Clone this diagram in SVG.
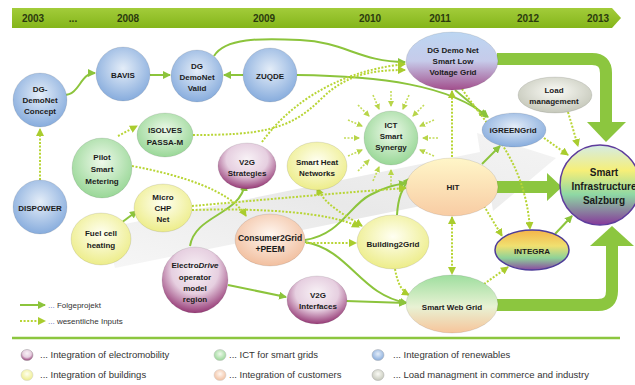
<svg xmlns="http://www.w3.org/2000/svg" width="635" height="385" viewBox="0 0 635 385">
<style>
text{font-family:"Liberation Sans",Arial,sans-serif;fill:#1b1b1b}
.n{font-size:8px;font-weight:bold;text-anchor:middle}
.y{font-size:10px;font-weight:bold;fill:#2b3a0e;text-anchor:middle}
.lg{font-size:9.5px;fill:#333}
.ls{font-size:8px;fill:#333}
.dots{fill:#5a6fb8}
.s{fill:none;stroke:#8cc43c;stroke-width:2;marker-end:url(#a)}
.d{fill:none;stroke:#b8d536;stroke-width:2;stroke-dasharray:2 1.6;marker-end:url(#b)}
.r{fill:none;stroke:#c4dc5a;stroke-width:1.6;stroke-dasharray:2 1.5;marker-end:url(#c)}
.big{fill:none;stroke:#8cc63f;stroke-width:12}
.bh{fill:#8cc63f}
.nd{stroke:#000;stroke-opacity:0.12;stroke-width:0.8}
</style>
<defs>
<marker id="a" markerUnits="userSpaceOnUse" markerWidth="8" markerHeight="8" refX="7" refY="4" orient="auto"><path d="M0,0 L8,4 L0,8 z" fill="#8cc43c"/></marker>
<marker id="b" markerUnits="userSpaceOnUse" markerWidth="8" markerHeight="8" refX="7" refY="4" orient="auto-start-reverse"><path d="M0,0 L8,4 L0,8 z" fill="#a9cc2e"/></marker>
<marker id="c" markerUnits="userSpaceOnUse" markerWidth="6" markerHeight="6" refX="5" refY="3" orient="auto"><path d="M0,0 L6,3 L0,6 z" fill="#b8d54a"/></marker>
<linearGradient id="bar" x1="0" y1="0" x2="0" y2="1"><stop offset="0" stop-color="#a2cc3a"/><stop offset="1" stop-color="#84b51a"/></linearGradient>
<radialGradient id="gB" cx="50%" cy="40%" r="62%"><stop offset="0" stop-color="#e4edf8"/><stop offset="1" stop-color="#84aadc"/></radialGradient>
<radialGradient id="gG" cx="50%" cy="40%" r="62%"><stop offset="0" stop-color="#eef9ea"/><stop offset="1" stop-color="#96d694"/></radialGradient>
<radialGradient id="gY" cx="50%" cy="40%" r="62%"><stop offset="0" stop-color="#fffff2"/><stop offset="1" stop-color="#ecec86"/></radialGradient>
<radialGradient id="gP" cx="50%" cy="40%" r="62%"><stop offset="0" stop-color="#fff7f1"/><stop offset="1" stop-color="#f1bd9c"/></radialGradient>
<radialGradient id="gM" cx="50%" cy="35%" r="65%"><stop offset="0" stop-color="#f8f2f6"/><stop offset="0.55" stop-color="#e6cfe0"/><stop offset="1" stop-color="#963a76"/></radialGradient>
<radialGradient id="gL" cx="50%" cy="40%" r="62%"><stop offset="0" stop-color="#fbfbf6"/><stop offset="1" stop-color="#c3c6b8"/></radialGradient>
<linearGradient id="gSLV" x1="0" y1="0" x2="0" y2="1"><stop offset="0" stop-color="#bcd6f2"/><stop offset="0.5" stop-color="#c6cbea"/><stop offset="1" stop-color="#a24e8c"/></linearGradient>
<linearGradient id="gHIT" x1="0" y1="0" x2="0" y2="1"><stop offset="0" stop-color="#fff6c8"/><stop offset="1" stop-color="#f8cca4"/></linearGradient>
<linearGradient id="gSWG" x1="0" y1="0" x2="0" y2="1"><stop offset="0" stop-color="#9ede9e"/><stop offset="0.55" stop-color="#e8f2d4"/><stop offset="1" stop-color="#f7c49a"/></linearGradient>
<linearGradient id="gINT" x1="0" y1="0" x2="0" y2="1"><stop offset="0" stop-color="#f4b44a"/><stop offset="0.4" stop-color="#f0e070"/><stop offset="0.7" stop-color="#8ed298"/><stop offset="1" stop-color="#8a48a2"/></linearGradient>
<linearGradient id="gSI" x1="0" y1="0" x2="0" y2="1"><stop offset="0" stop-color="#d4ece6"/><stop offset="0.32" stop-color="#f6ef78"/><stop offset="0.62" stop-color="#8ed8a4"/><stop offset="1" stop-color="#86389a"/></linearGradient>
<linearGradient id="grey" x1="0" y1="1" x2="1" y2="0"><stop offset="0" stop-color="#dcdcdc" stop-opacity="0.25"/><stop offset="0.5" stop-color="#dadada" stop-opacity="0.6"/><stop offset="1" stop-color="#e4e4e4" stop-opacity="0.4"/></linearGradient>
</defs>
<rect width="635" height="385" fill="#ffffff"/>

<g id="timeline">
<polygon points="12,8 612,8 621,18 612,28 12,28" fill="url(#bar)"/>
<text class="y" x="33" y="22">2003</text>
<text class="y" x="73" y="22">...</text>
<text class="y" x="128" y="22">2008</text>
<text class="y" x="264" y="22">2009</text>
<text class="y" x="370" y="22">2010</text>
<text class="y" x="440" y="22">2011</text>
<text class="y" x="528" y="22">2012</text>
<text class="y" x="598" y="22">2013</text>
</g>

<polygon id="background-arrow" points="105,228 480,152 477,133 556,158 493,211 490,192 115,268" fill="url(#grey)"/>

<g id="connectors">
<path class="big" d="M497,59 H592 Q606,59 606,73 V122"/>
<polygon class="bh" points="587,122 626,122 606,142"/>
<path class="big" d="M497,187 H548"/>
<polygon class="bh" points="547,173 547,201 562,187"/>
<path class="big" d="M496,305 H598 Q612,305 612,291 V246"/>
<polygon class="bh" points="590,246 634,246 612,226"/>

<path class="s" d="M64,95 C80,95 80,73 95,73"/>
<path class="s" d="M150,75 L170,75"/>
<path class="s" d="M243,75 L224,75"/>
<path class="s" d="M214,56 C225,38 260,38 300,40 C345,42 360,62 405,62"/>
<path class="s" d="M297,75 C380,76 450,85 488,117"/>
<path class="s" d="M455,90 Q470,102 486,117"/>
<path class="s" d="M482,164 L500,146"/>
<path class="s" d="M121,223 L137,211"/>
<path class="s" d="M190,246 C195,215 240,215 245,184"/>
<path class="s" d="M228,285 L286,297"/>
<path class="s" d="M346,301 L406,303"/>
<path class="s" d="M305,240 C340,235 350,205 370,195 C385,187 395,185 406,183"/>
<path class="s" d="M305,242 C350,250 360,295 407,303"/>
<path class="s" d="M397,215 C398,198 402,188 410,178"/>
<path class="s" d="M555,234 L572,216"/>

<path class="d" d="M40,180 L40,129"/>
<path class="d" d="M118,136 L137,126"/>
<path class="d" d="M193,135 C260,135 290,130 320,100 C345,75 370,70 405,70"/>
<path class="d" d="M262,142 C285,110 330,72 405,64"/>
<path class="d" d="M132,166 C180,175 230,190 246,216"/>
<path class="d" d="M192,206 C260,200 350,192 406,188"/>
<path class="d" d="M192,210 C260,208 330,212 359,227"/>
<path class="d" d="M362,226 C345,215 325,205 317,188" style="marker-start:url(#b)"/>
<path class="d" d="M306,243 L356,243"/>
<path class="d" d="M395,269 C397,280 400,290 409,295"/>
<path class="d" d="M452,217 L452,274" style="marker-start:url(#b)"/>
<path class="d" d="M452,157 L452,91"/>
<path class="d" d="M462,89 C490,130 525,160 530,229"/>
<path class="d" d="M484,206 L502,236"/>
<path class="d" d="M484,284 L508,267"/>
<path class="d" d="M544,138 L568,155"/>
<path class="d" d="M568,112 L578,146"/>

<path class="r" d="M438,138 L423,138"/>
<path class="r" d="M434,120 L420,126"/>
<path class="r" d="M424,105 L413,116"/>
<path class="r" d="M409,95 L403,109"/>
<path class="r" d="M391,91 L391,106"/>
<path class="r" d="M373,95 L379,109"/>
<path class="r" d="M358,105 L369,116"/>
<path class="r" d="M348,120 L362,126"/>
<path class="r" d="M344,138 L359,138"/>
<path class="r" d="M348,156 L362,150"/>
<path class="r" d="M358,171 L369,160"/>
<path class="r" d="M373,181 L379,167"/>
<path class="r" d="M391,185 L391,170"/>
<path class="r" d="M434,156 L420,150"/>
</g>

<g id="n-dgconcept"><circle class="nd" cx="40" cy="100" r="27" fill="url(#gB)"/><text class="n" x="40" y="92">DG-</text><text class="n" x="40" y="103">DemoNet</text><text class="n" x="40" y="114">Concept</text></g>
<g id="n-bavis"><circle class="nd" cx="123" cy="74" r="27" fill="url(#gB)"/><text class="n" x="123" y="78">BAVIS</text></g>
<g id="n-dgvalid"><circle class="nd" cx="197" cy="76" r="26" fill="url(#gB)"/><text class="n" x="197" y="69">DG</text><text class="n" x="197" y="80">DemoNet</text><text class="n" x="197" y="91">Valid</text></g>
<g id="n-zuqde"><circle class="nd" cx="270" cy="75" r="27" fill="url(#gB)"/><text class="n" x="270" y="79">ZUQDE</text></g>
<g id="n-slvg"><ellipse class="nd" cx="452" cy="61" rx="46" ry="29" fill="url(#gSLV)"/><text class="n" x="453" y="53">DG Demo Net</text><text class="n" x="453" y="64">Smart Low</text><text class="n" x="453" y="75">Voltage Grid</text></g>
<g id="n-load"><ellipse class="nd" cx="555" cy="95" rx="37" ry="18" fill="url(#gL)"/><text class="n" x="554" y="93">Load</text><text class="n" x="554" y="104">management</text></g>
<g id="n-igreen"><ellipse class="nd" cx="514" cy="130" rx="32" ry="17" fill="url(#gB)"/><text class="n" x="513" y="133">iGREENGrid</text></g>
<g id="n-ict"><circle class="nd" cx="391" cy="138" r="27" fill="url(#gG)"/><text class="n" x="391" y="128">ICT</text><text class="n" x="391" y="139">Smart</text><text class="n" x="391" y="150">Synergy</text></g>
<g id="n-isolves"><ellipse class="nd" cx="165" cy="135" rx="28" ry="22" fill="url(#gG)"/><text class="n" x="165" y="133">ISOLVES</text><text class="n" x="165" y="145">PASSA-M</text></g>
<g id="n-pilot"><circle class="nd" cx="102" cy="168" r="30" fill="url(#gG)"/><text class="n" x="102" y="160">Pilot</text><text class="n" x="102" y="172">Smart</text><text class="n" x="102" y="184">Metering</text></g>
<g id="n-v2gs"><ellipse class="nd" cx="247" cy="166" rx="29" ry="23" fill="url(#gM)"/><text class="n" x="247" y="165">V2G</text><text class="n" x="247" y="176">Strategies</text></g>
<g id="n-heat"><ellipse class="nd" cx="317" cy="166" rx="30" ry="24" fill="url(#gY)"/><text class="n" x="317" y="165">Smart Heat</text><text class="n" x="317" y="176">Networks</text></g>
<g id="n-hit"><ellipse class="nd" cx="452" cy="187" rx="46" ry="29" fill="url(#gHIT)"/><text class="n" x="453" y="190">HIT</text></g>
<g id="n-si"><circle cx="600" cy="185" r="40" fill="url(#gSI)" stroke="#5e3c9c" stroke-width="1.5"/><text class="n" style="font-size:10px" x="604" y="176">Smart</text><text class="n" style="font-size:10px" x="604" y="190">Infrastructure</text><text class="n" style="font-size:10px" x="604" y="204">Salzburg</text></g>
<g id="n-dispower"><circle class="nd" cx="40" cy="207" r="27" fill="url(#gB)"/><text class="n" x="40" y="211">DISPOWER</text></g>
<g id="n-chp"><ellipse class="nd" cx="163" cy="208" rx="29" ry="24" fill="url(#gY)"/><text class="n" x="163" y="200">Micro</text><text class="n" x="163" y="211">CHP</text><text class="n" x="163" y="222">Net</text></g>
<g id="n-fuel"><ellipse class="nd" cx="101" cy="239" rx="30" ry="26" fill="url(#gY)"/><text class="n" x="101" y="236">Fuel cell</text><text class="n" x="101" y="248">heating</text></g>
<g id="n-c2g"><ellipse class="nd" cx="270" cy="240" rx="35" ry="26" fill="url(#gP)"/><text class="n" style="font-size:8.5px" x="270" y="241">Consumer2Grid</text><text class="n" style="font-size:8.5px" x="270" y="252">+PEEM</text></g>
<g id="n-b2g"><ellipse class="nd" cx="393" cy="242" rx="36" ry="27" fill="url(#gY)"/><text class="n" x="393" y="247">Building2Grid</text></g>
<g id="n-electro"><circle class="nd" cx="195" cy="280" r="33" fill="url(#gM)"/><text class="n" x="195" y="268">Electro<tspan font-style="italic">Drive</tspan></text><text class="n" x="195" y="280">operator</text><text class="n" x="195" y="291">model</text><text class="n" x="195" y="302">region</text></g>
<g id="n-v2gi"><ellipse class="nd" cx="317" cy="300" rx="30" ry="24" fill="url(#gM)"/><text class="n" x="318" y="298">V2G</text><text class="n" x="318" y="309">Interfaces</text></g>
<g id="n-swg"><ellipse class="nd" cx="452" cy="304" rx="46" ry="29" fill="url(#gSWG)"/><text class="n" x="452" y="310">Smart Web Grid</text></g>
<g id="n-integra"><ellipse cx="532" cy="250" rx="37" ry="20" fill="url(#gINT)" stroke="#4e3c98" stroke-width="1.5"/><text class="n" x="532" y="254">INTEGRA</text></g>

<g id="legend">
<line x1="20" y1="305" x2="45" y2="305" stroke="#8cc43c" stroke-width="2" marker-end="url(#a)"/>
<text class="ls" x="48" y="308"><tspan class="dots">...</tspan> Folgeprojekt</text>
<line x1="20" y1="321" x2="45" y2="321" class="d"/>
<text class="ls" x="48" y="324"><tspan class="dots">...</tspan> wesentliche Inputs</text>
<line x1="12" y1="338" x2="620" y2="338" stroke="#8cc63f" stroke-width="2.5"/>
<ellipse cx="27" cy="355" rx="6" ry="5.5" fill="url(#gM)" stroke="#999" stroke-width="0.5"/>
<text class="lg" x="40" y="358">... Integration of electromobility</text>
<ellipse cx="27" cy="375" rx="6" ry="5.5" fill="url(#gY)" stroke="#ccc" stroke-width="0.5"/>
<text class="lg" x="40" y="378">... Integration of buildings</text>
<ellipse cx="220" cy="355" rx="6" ry="5.5" fill="url(#gG)" stroke="#bbb" stroke-width="0.5"/>
<text class="lg" x="229" y="358">... ICT for smart grids</text>
<ellipse cx="220" cy="375" rx="6" ry="5.5" fill="url(#gP)" stroke="#ccc" stroke-width="0.5"/>
<text class="lg" x="229" y="378">... Integration of customers</text>
<ellipse cx="378" cy="355" rx="6" ry="5.5" fill="url(#gB)" stroke="#aaa" stroke-width="0.5"/>
<text class="lg" x="393" y="358">... Integration of renewables</text>
<ellipse cx="378" cy="375" rx="6" ry="5.5" fill="url(#gL)" stroke="#aaa" stroke-width="0.5"/>
<text class="lg" x="393" y="378">... Load managment in commerce and industry</text>
</g>
</svg>
